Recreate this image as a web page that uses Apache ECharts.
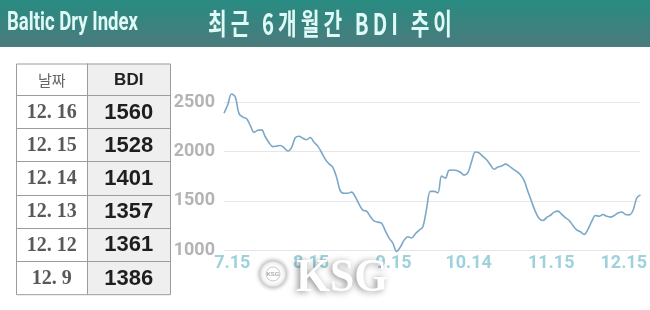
<!DOCTYPE html>
<html><head><meta charset="utf-8">
<script src="https://cdn.jsdelivr.net/npm/echarts@6/dist/echarts.min.js"></script>
<style>html,body{margin:0;padding:0;background:#fff}#c{width:650px;height:310px}</style>
</head><body><div id="c"></div>
<script>
// ---- data ----
const dates = [
 '7.12','7.13','7.14','7.15','7.18','7.19','7.20','7.21','7.22','7.25','7.26','7.27','7.28','7.29',
 '8.1','8.2','8.3','8.4','8.5','8.8','8.9','8.10','8.11','8.12','8.15','8.16','8.17','8.18','8.19',
 '8.22','8.23','8.24','8.25','8.26','8.30','8.31','9.1','9.2','9.5','9.6','9.7','9.8','9.9',
 '9.12','9.13','9.14','9.15','9.16','9.20','9.21','9.22','9.23','9.26','9.27','9.28','9.29','9.30',
 '10.3','10.4','10.5','10.6','10.7','10.10','10.11','10.12','10.13','10.14','10.17','10.18','10.19','10.20','10.21',
 '10.24','10.25','10.26','10.27','10.28','10.31','11.1','11.2','11.3','11.4','11.7','11.8','11.9','11.10','11.11',
 '11.14','11.15','11.16','11.17','11.18','11.21','11.22','11.23','11.24','11.25','11.28','11.29','11.30',
 '12.1','12.2','12.5','12.6','12.7','12.8','12.9','12.12','12.13','12.14','12.15','12.16'
];
const bdi = [
 2390,2475,2585,2555,2385,2350,2335,2265,2195,2215,2220,2150,2090,2050,
 2055,2062,2040,2005,2040,2140,2155,2135,2120,2143,2095,2055,1990,1920,1875,
 1840,1740,1600,1576,1576,1588,1540,1465,1405,1395,1340,1295,1283,1272,
 1195,1120,1070,985,1030,1100,1135,1122,1165,1200,1237,1420,1595,1595,
 1580,1750,1730,1810,1812,1808,1790,1760,1785,1900,1995,1985,1950,1916,1865,
 1820,1843,1853,1872,1852,1823,1798,1765,1705,1595,1490,1390,1320,1300,
 1330,1353,1385,1395,1362,1328,1300,1248,1205,1185,1159,1210,1290,1350,
 1342,1360,1342,1334,1350,1375,1386,1361,1357,1401,1528,1560
];
const xTickLabels = ['7.15','8.15','9.15','10.14','11.15','12.15'];
const yTicks = [1000, 1500, 2000, 2500];
const tableHead = ['날짜', 'BDI'];
const tableDates = ['12. 16','12. 15','12. 14','12. 13','12. 12','12. 9'];
const tableValues = [1560, 1528, 1401, 1357, 1361, 1386];
const titleLeft = 'Baltic Dry Index';
const titleMain = '최근 6개월간 BDI 추이';

// ---- helpers ----
const mctx = document.createElement('canvas').getContext('2d');
function measure(text, font){ mctx.font = font; return mctx.measureText(text).width; }

const chart = echarts.init(document.getElementById('c'), null, {renderer:'canvas'});

const headFontL = 'bold 25px "Liberation Sans Narrow", Roboto, sans-serif';
const headFontM = 'bold 29px "Noto Sans CJK KR", sans-serif';
const spacedMain = titleMain.split('').join('\u2009');
const sL = 131 / measure(titleLeft, headFontL);
const sM = 244 / measure(spacedMain, headFontM);

const graphics = [];
graphics.push({type:'rect', shape:{x:0,y:0,width:650,height:47}, silent:true, z:0,
  style:{fill:{type:'linear',x:0,y:0,x2:0,y2:1,colorStops:[{offset:0,color:'#288b81'},{offset:1,color:'#4b7b7d'}]}}});
graphics.push({type:'text', x:7, y:24, scaleX:sL, z:1,
  style:{text:titleLeft, font:headFontL, fill:'#dff9f6', textAlign:'left', textVerticalAlign:'middle'}});
graphics.push({type:'text', x:208, y:24, scaleX:sM, z:1,
  style:{text:spacedMain, font:headFontM, fill:'#dff9f6', textAlign:'left', textVerticalAlign:'middle'}});

// table
const tL = 16, tR = 170, tC = 87.5, tT = 63.5, hH = 31.5, rH = 33.2;
const tB = tT + hH + rH * tableDates.length;
graphics.push({type:'rect', shape:{x:tC,y:tT,width:tR-tC,height:tB-tT}, style:{fill:'#efefef'}, z:1});
graphics.push({type:'rect', shape:{x:tL,y:tT,width:tC-tL,height:tB-tT}, style:{fill:'#ffffff'}, z:1});
const lineStyle = {stroke:'#9c9c9c', lineWidth:1};
graphics.push({type:'rect', shape:{x:tL+0.5,y:tT+0.5,width:tR-tL,height:tB-tT}, style:Object.assign({fill:null},lineStyle), z:3});
graphics.push({type:'line', shape:{x1:tC,y1:tT,x2:tC,y2:tB}, style:lineStyle, z:3});
for (let r = 0; r < tableDates.length; r++) {
  const y = Math.round(tT + hH + rH * r) + 0.5;
  graphics.push({type:'line', shape:{x1:tL,y1:y,x2:tR,y2:y}, style:lineStyle, z:3});
}
graphics.push({type:'text', x:(tL+tC)/2, y:tT+hH/2+1, z:4,
  style:{text:tableHead[0], font:'15px "Noto Sans CJK KR", sans-serif', fill:'#666', textAlign:'center', textVerticalAlign:'middle'}});
graphics.push({type:'text', x:(tC+tR)/2, y:tT+hH/2+1, z:4,
  style:{text:tableHead[1], font:'bold 17px "Liberation Sans", Arial, sans-serif', fill:'#222', textAlign:'center', textVerticalAlign:'middle'}});
tableDates.forEach((d, r) => {
  const cy = tT + hH + rH * r + rH / 2 + 1;
  graphics.push({type:'text', x:(tL+tC)/2, y:cy, z:4,
    style:{text:d, font:'bold 20px "Liberation Serif", serif', fill:'#595959', textAlign:'center', textVerticalAlign:'middle'}});
  graphics.push({type:'text', x:(tC+tR)/2, y:cy, z:4,
    style:{text:String(tableValues[r]), font:'bold 22px "Liberation Sans", Arial, sans-serif', fill:'#1e1e1e', textAlign:'center', textVerticalAlign:'middle'}});
});

// watermark
graphics.push({type:'circle', shape:{cx:273, cy:274, r:13}, z:50,
  style:{fill:'#ffffff', stroke:'#d4d4d4', lineWidth:1.5, shadowColor:'rgba(0,0,0,0.3)', shadowBlur:4}});
graphics.push({type:'circle', shape:{cx:273, cy:274, r:7}, z:51,
  style:{fill:'#ffffff', stroke:'#c8c8c8', lineWidth:1}});
graphics.push({type:'text', x:273, y:274, z:52,
  style:{text:'KSG', font:'bold 6px "Liberation Sans", sans-serif', fill:'#aaa', textAlign:'center', textVerticalAlign:'middle'}});
graphics.push({type:'text', x:296, y:279, scaleX:0.95, z:50,
  style:{text:'KSG', font:'bold 46px "Liberation Serif", serif', fill:'#ffffff', textAlign:'left', textVerticalAlign:'middle',
    textShadowColor:'rgba(0,0,0,0.45)', textShadowBlur:6, textShadowOffsetX:-2, textShadowOffsetY:1}});

const axisFont = '"Liberation Sans Narrow", Roboto, sans-serif';
chart.setOption({
  animation:false,
  backgroundColor:'#ffffff',
  grid:{left:224, right:2, top:102.3, bottom:60},
  xAxis:{
    type:'category', data:dates, boundaryGap:false,
    axisLine:{show:false}, axisTick:{show:false}, splitLine:{show:false},
    axisLabel:{
      interval:(i, v) => xTickLabels.indexOf(v) >= 0,
      formatter: v => v === xTickLabels[xTickLabels.length-1] ? '{e|' + v + '}' : v,
      rich:{e:{padding:[0,20,0,0], color:'#9dd2dd', fontWeight:'bold', fontSize:18, fontFamily:axisFont}},
      color:'#9dd2dd', fontWeight:'bold', fontSize:18, fontFamily:axisFont, margin:4, padding:[0,6,0,0]
    }
  },
  yAxis:{
    type:'value', min:yTicks[0], max:yTicks[yTicks.length-1], interval:500,
    axisLine:{show:false}, axisTick:{show:false},
    axisLabel:{color:'#b4b4b4', fontWeight:'bold', fontSize:18, fontFamily:axisFont, margin:9,
      formatter: v => String(v)},
    splitLine:{lineStyle:{color:'#e6e6e6', width:1}}
  },
  series:[{
    type:'line', data:bdi, smooth:0.35, symbol:'none', clip:false,
    lineStyle:{color:'#7ba8c8', width:1.6}
  }],
  graphic:{elements:graphics}
});
</script></body></html>
